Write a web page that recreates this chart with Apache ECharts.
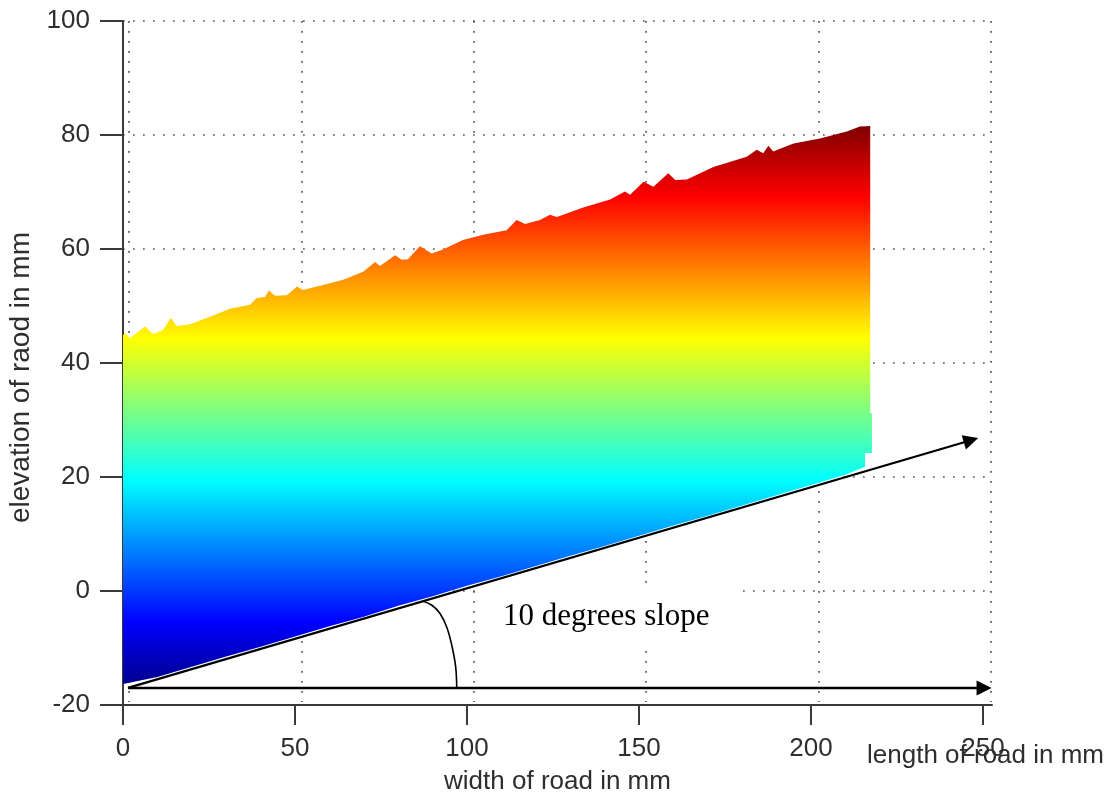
<!DOCTYPE html>
<html>
<head>
<meta charset="utf-8">
<title>Road surface elevation</title>
<script src="https://cdn.jsdelivr.net/npm/echarts@6/dist/echarts.min.js"></script>
<style>
  html, body { margin: 0; padding: 0; background: #ffffff; }
  #chart { width: 1106px; height: 802px; }
</style>
</head>
<body>
<div id="chart"></div>
<script>
// Tick values of the two visible axes
const xTicks = [0, 50, 100, 150, 200, 250];
const yTicks = [-20, 0, 20, 40, 60, 80, 100];

// Scanned road surface: upper (far) edge, right end and lower (near) edge, [width, elevation] in mm
const topEdge = [
  [0, 44.9], [0.6, 45.2], [2.0, 44.4], [6.4, 46.4], [8.7, 45.1], [11.6, 45.8], [13.9, 47.9],
  [15.6, 46.5], [19.5, 46.8], [25.3, 48.1], [31.1, 49.5], [36.9, 50.2], [38.9, 51.4], [41.3, 51.6],
  [42.4, 52.7], [44.2, 51.8], [47.6, 51.9], [50.6, 53.4], [52.3, 52.8], [58.1, 53.7], [64.0, 54.6],
  [69.8, 56.0], [73.3, 57.7], [74.7, 57.0], [79.1, 58.9], [81.0, 58.1], [82.8, 58.2], [86.3, 60.5],
  [89.7, 59.2], [93.0, 59.9], [98.8, 61.6], [104.7, 62.5], [111.5, 63.3], [114.4, 65.1], [116.9, 64.4],
  [121.2, 65.1], [124.1, 66.0], [126.1, 65.6], [133.8, 67.3], [141.6, 68.7], [145.9, 70.1], [147.4, 69.5],
  [151.3, 71.8], [154.2, 70.9], [158.5, 73.3], [160.5, 72.1], [163.9, 72.2], [171.6, 74.4], [181.3, 76.2],
  [184.2, 77.4], [186.1, 76.8], [187.6, 78.1], [189.0, 77.1], [194.9, 78.5], [202.6, 79.4], [210.4, 80.6],
  [214.2, 81.5], [217.2, 81.6]
];
const rightEdge = [[217.2, 31.2], [217.7, 31.2], [217.7, 24.2], [215.7, 24.2]];
const bottomEdge = [
  [0, -16.3], [10, -15.1], [20, -13.3], [30, -11.5], [40, -9.8], [50, -8.0], [60, -6.2], [70, -4.5],
  [80, -2.6], [90, -0.9], [100, 0.9], [110, 2.6], [120, 4.4], [130, 6.2], [140, 7.9], [150, 9.7],
  [160, 11.5], [170, 13.2], [180, 15.0], [190, 16.8], [200, 18.6], [210, 20.4], [215.7, 21.8]
];

// Annotation: slope direction, road length direction and the angle arc between them
const slopeArrow = [[1.45, -17.0], [246.5, 26.45]];
const lengthArrow = [[1.45, -17.0], [250.3, -17.0]];
const angleArc = [[87.2, -1.8], [89.8, -2.5], [92.2, -4.0], [94.2, -6.5], [95.6, -9.6], [96.7, -13.3], [97.0, -17.0]];

const surfaceOutline = topEdge.concat(rightEdge, bottomEdge.slice().reverse());
const zMin = Math.min(...bottomEdge.map(p => p[1]));
const zMax = Math.max(...topEdge.map(p => p[1]));

// jet colour map
const jetStops = [
  { offset: 0, color: '#00008f' },
  { offset: 0.111, color: '#0000ff' },
  { offset: 0.365, color: '#00ffff' },
  { offset: 0.619, color: '#ffff00' },
  { offset: 0.873, color: '#ff0000' },
  { offset: 1, color: '#800000' }
];

const FONT = "'Liberation Sans', Arial, Helvetica, sans-serif";
const axisColor = '#3a3a3a';
const textColor = '#2e2e2e';
const dotted = { color: '#555555', width: 1.7, type: [1.7, 8.3] };

const chart = echarts.init(document.getElementById('chart'), null, { renderer: 'canvas' });

chart.setOption({
  backgroundColor: '#ffffff',
  animation: false,
  grid: [
    { left: 123, top: 21, width: 869, height: 684, outerBoundsMode: 'none', containLabel: false },
    { left: 129, top: 21, width: 862, height: 681, outerBoundsMode: 'none', containLabel: false }
  ],
  xAxis: [
    {
      type: 'value', gridIndex: 0, min: 0, max: 252.6,
      axisLine: { show: true, onZero: false, lineStyle: { color: axisColor, width: 2 } },
      axisTick: { show: true, length: 20, customValues: xTicks, lineStyle: { color: axisColor, width: 2 } },
      axisLabel: { customValues: xTicks, margin: 31, fontSize: 26, fontFamily: FONT, color: textColor },
      splitLine: { show: false },
      name: 'width of road in mm', nameLocation: 'middle', nameGap: 64,
      nameTextStyle: { fontSize: 26, fontFamily: FONT, color: textColor }
    },
    {
      type: 'value', gridIndex: 1, min: 0, max: 250, interval: 50,
      axisLine: { show: false }, axisTick: { show: false }, axisLabel: { show: false },
      splitLine: { show: true, lineStyle: dotted }
    }
  ],
  yAxis: [
    {
      type: 'value', gridIndex: 0, min: yTicks[0], max: yTicks[yTicks.length - 1], interval: 20,
      axisLine: { show: true, onZero: false, lineStyle: { color: axisColor, width: 2 } },
      axisTick: { show: true, length: 23, lineStyle: { color: axisColor, width: 2 } },
      axisLabel: { margin: 33, fontSize: 26, fontFamily: FONT, color: textColor },
      splitLine: { show: true, lineStyle: dotted },
      name: 'elevation of raod in mm', nameLocation: 'middle', nameGap: 86, nameRotate: 90,
      nameTextStyle: { fontSize: 28, fontFamily: FONT, color: textColor, padding: [0, 29, 0, 0] }
    },
    { type: 'value', gridIndex: 1, min: -20, max: 100, show: false }
  ],
  series: [
    {
      // road surface coloured by elevation
      type: 'custom',
      xAxisIndex: 0, yAxisIndex: 0,
      data: [[0, 0]],
      z: 2,
      silent: true,
      renderItem: function (params, api) {
        const points = surfaceOutline.map(p => api.coord(p));
        const yLow = api.coord([0, zMin])[1];
        const yHigh = api.coord([0, zMax])[1];
        return {
          type: 'polygon',
          shape: { points: points },
          style: {
            fill: new echarts.graphic.LinearGradient(0, yLow, 0, yHigh, jetStops, true),
            stroke: null
          }
        };
      }
    },
    {
      type: 'lines',
      coordinateSystem: 'cartesian2d',
      xAxisIndex: 0, yAxisIndex: 0,
      z: 6,
      silent: true,
      symbol: ['none', 'triangle'],
      symbolSize: 15,
      lineStyle: { color: '#000000', width: 2.3, opacity: 1, curveness: 0 },
      data: [{ coords: slopeArrow }, { coords: lengthArrow }]
    },
    {
      type: 'line',
      xAxisIndex: 0, yAxisIndex: 0,
      z: 6,
      silent: true,
      smooth: 0.4,
      showSymbol: false,
      lineStyle: { color: '#000000', width: 1.6 },
      data: angleArc
    }
  ],
  graphic: [
    {
      type: 'text', left: 476, top: 585, z: 3,
      style: {
        text: '10 degrees slope',
        font: "31px 'Liberation Serif', 'Times New Roman', serif",
        fill: '#000000',
        backgroundColor: '#ffffff',
        lineHeight: 36,
        padding: [14, 29, 15, 27]
      }
    },
    {
      type: 'text', x: 867, y: 756, z: 10,
      style: {
        text: 'length of road in mm',
        font: "26px 'Liberation Sans', Arial, sans-serif",
        fill: textColor,
        verticalAlign: 'middle'
      }
    }
  ]
});
</script>
</body>
</html>
